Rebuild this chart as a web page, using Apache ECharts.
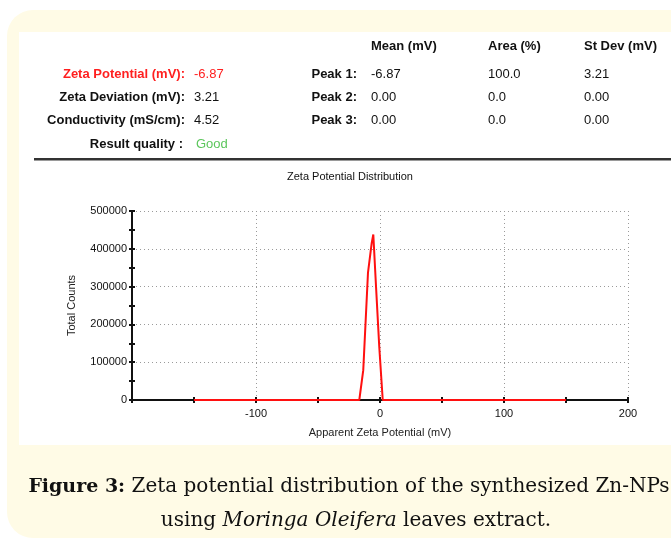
<!DOCTYPE html>
<html>
<head>
<meta charset="utf-8">
<script src="https://cdn.jsdelivr.net/npm/echarts@6/dist/echarts.min.js"></script>
<style>
html,body{margin:0;padding:0;background:#fff;}
#chart{width:671px;height:553px;}
</style>
</head>
<body>
<div id="chart"></div>
<script>
// ---- data ----
const zetaPotential = [-150, -16.7, -13.5, -9.7, -6.7, -5.4, -3.2, -0.6, 2.2, 150];
const totalCounts   = [0, 0, 79000, 336000, 415000, 438000, 300000, 141000, 0, 0];
const xTickLabels = ['-100', '0', '100', '200'];
const yTickLabels = ['0', '100000', '200000', '300000', '400000', '500000'];

const columnHeaders = ['Mean (mV)', 'Area (%)', 'St Dev (mV)'];
const leftLabels = ['Zeta Potential (mV):', 'Zeta Deviation (mV):', 'Conductivity (mS/cm):', 'Result quality :'];
const leftValues = ['-6.87', '3.21', '4.52', 'Good'];
const peakLabels = ['Peak 1:', 'Peak 2:', 'Peak 3:'];
const peakMean = ['-6.87', '0.00', '0.00'];
const peakArea = ['100.0', '0.0', '0.0'];
const peakStDev = ['3.21', '0.00', '0.00'];

const chartTitle = 'Zeta Potential Distribution';
const xName = 'Apparent Zeta Potential (mV)';
const yName = 'Total Counts';

// ---- build ----
const SANS = 'Liberation Sans, Arial, sans-serif';
const SERIF = 'DejaVu Serif, serif';
function txt(x, y, text, opts) {
  opts = opts || {};
  return {
    type: 'text', z: 10,
    style: {
      x: x, y: y, text: text,
      font: (opts.bold ? 'bold ' : '') + (opts.size || 13) + 'px ' + (opts.family || SANS),
      fill: opts.color || '#111',
      align: opts.align || 'left', textAlign: opts.align || 'left',
      verticalAlign: 'middle', textVerticalAlign: 'middle'
    }
  };
}
const rowY = [74, 97, 120, 144];
const graphics = [
  {type: 'rect', z: -10, shape: {x: 7, y: 10, width: 720, height: 528, r: 26}, style: {fill: '#fffbe6'}},
  {type: 'rect', z: -9, shape: {x: 19, y: 32, width: 700, height: 413}, style: {fill: '#ffffff'}},
  {type: 'rect', z: 5, shape: {x: 34, y: 158, width: 660, height: 2}, style: {fill: '#333333'}},
  {type: 'rect', z: 5, shape: {x: 34, y: 160, width: 660, height: 1}, style: {fill: '#9a9a9a'}}
];
const colX = [371, 488, 584];
columnHeaders.forEach((h, i) => graphics.push(txt(colX[i], 46, h, {bold: true})));
leftLabels.forEach((l, i) => {
  const red = i === 0;
  graphics.push(txt(i === 3 ? 183 : 185, rowY[i], l, {bold: true, align: 'right', color: red ? '#ff1f1f' : '#111'}));
  graphics.push(txt(i === 3 ? 196 : 194, rowY[i], leftValues[i], {color: red ? '#ff1f1f' : (i === 3 ? '#5cc65c' : '#111')}));
});
peakLabels.forEach((p, i) => {
  graphics.push(txt(357, rowY[i], p, {bold: true, align: 'right'}));
  graphics.push(txt(colX[0], rowY[i], peakMean[i]));
  graphics.push(txt(colX[1], rowY[i], peakArea[i]));
  graphics.push(txt(colX[2], rowY[i], peakStDev[i]));
});
graphics.push(txt(350, 177, chartTitle, {size: 11, align: 'center'}));
graphics.push({
  type: 'text', z: 10,
  style: {
    x: 349, y: 487, text: '{b|Figure 3:} Zeta potential distribution of the synthesized Zn-NPs',
    font: '20px ' + SERIF, fill: '#111', align: 'center', textAlign: 'center',
    verticalAlign: 'middle', textVerticalAlign: 'middle',
    rich: {b: {fontWeight: 'bold', fontSize: 19, fontFamily: SERIF}}
  }
});
graphics.push({
  type: 'text', z: 10,
  style: {
    x: 356, y: 521, text: 'using {i|Moringa Oleifera} leaves extract.',
    font: '20px ' + SERIF, fill: '#111', align: 'center', textAlign: 'center',
    verticalAlign: 'middle', textVerticalAlign: 'middle',
    rich: {i: {fontStyle: 'italic', fontSize: 20, fontFamily: SERIF}}
  }
});

const dotted = {show: true, lineStyle: {color: '#9a9a9a', type: [1, 3], width: 1}};
const xLine = zetaPotential.map((x, i) => [x, totalCounts[i]]);

const option = {
  animation: false,
  grid: {left: 132, right: 43, top: 211, bottom: 153, containLabel: false},
  graphic: graphics,
  xAxis: [
    {type: 'value', min: -200, max: 200, interval: 50, position: 'bottom',
     axisLine: {show: true, onZero: false, lineStyle: {color: '#111', width: 2}},
     axisTick: {show: true, inside: true, length: 3, lineStyle: {color: '#111', width: 2}},
     axisLabel: {show: true, margin: 8, color: '#111', fontSize: 11, fontFamily: SANS,
       formatter: v => xTickLabels.indexOf(String(v)) >= 0 ? String(v) : ''},
     splitLine: {show: false},
     name: xName, nameLocation: 'middle', nameGap: 27,
     nameTextStyle: {color: '#222', fontSize: 11, fontFamily: SANS}},
    {type: 'value', min: -200, max: 200, interval: 50, position: 'bottom',
     axisLine: {show: false, onZero: false},
     axisTick: {show: true, inside: false, length: 3, lineStyle: {color: '#111', width: 2}},
     axisLabel: {show: false}, splitLine: {show: false}},
    {type: 'value', min: -200, max: 200, interval: 100, position: 'bottom',
     axisLine: {show: false, onZero: false}, axisTick: {show: false},
     axisLabel: {show: false}, splitLine: dotted}
  ],
  yAxis: [
    {type: 'value', min: 0, max: 500000, interval: 50000, position: 'left',
     axisLine: {show: true, onZero: false, lineStyle: {color: '#111', width: 2}},
     axisTick: {show: true, inside: true, length: 3, lineStyle: {color: '#111', width: 2}},
     axisLabel: {show: true, margin: 5, color: '#111', fontSize: 11, fontFamily: SANS,
       formatter: v => yTickLabels.indexOf(String(v)) >= 0 ? String(v) : ''},
     splitLine: {show: false},
     name: yName, nameLocation: 'middle', nameGap: 55,
     nameTextStyle: {color: '#222', fontSize: 11, fontFamily: SANS}},
    {type: 'value', min: 0, max: 500000, interval: 50000, position: 'left',
     axisLine: {show: false, onZero: false},
     axisTick: {show: true, inside: false, length: 3, lineStyle: {color: '#111', width: 2}},
     axisLabel: {show: false}, splitLine: {show: false}},
    {type: 'value', min: 0, max: 500000, interval: 100000, position: 'left',
     axisLine: {show: false, onZero: false}, axisTick: {show: false},
     axisLabel: {show: false}, splitLine: dotted}
  ],
  series: [{
    type: 'line', xAxisIndex: 0, yAxisIndex: 0, data: xLine,
    showSymbol: false, symbol: 'none', z: 5,
    lineStyle: {color: '#ff1010', width: 2}
  }]
};
const chart = echarts.init(document.getElementById('chart'), null, {renderer: 'canvas'});
chart.setOption(option);
</script>
</body>
</html>
